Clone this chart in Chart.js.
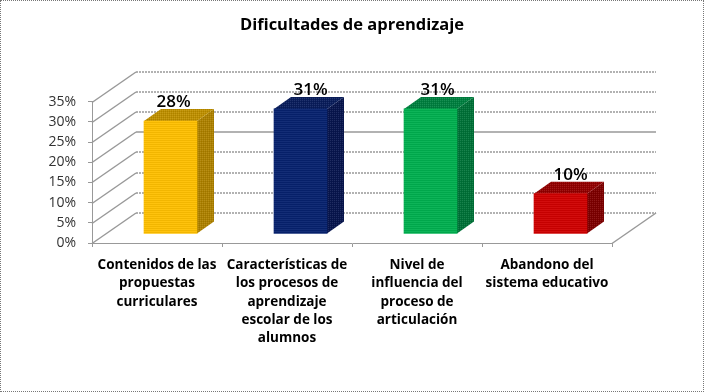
<!DOCTYPE html>
<html>
<head>
<meta charset="utf-8">
<style>
    html, body { margin: 0; padding: 0; background: #fff; }
    #wrap { width: 704px; height: 392px; position: relative; box-sizing: border-box; border: 1px dotted #777; }
    #wrap canvas { position: absolute; left: -1px; top: -1px; }
</style>
<script src="https://cdn.jsdelivr.net/npm/chart.js@4"></script>
</head>
<body>
<div id="wrap"><canvas id="chart" width="704" height="392"></canvas></div>
<script>
const chartTitle = 'Dificultades de aprendizaje';
const categories = [
    ['Contenidos de las', 'propuestas', 'curriculares'],
    ['Características de', 'los procesos de', 'aprendizaje', 'escolar de los', 'alumnos'],
    ['Nivel de', 'influencia del', 'proceso de', 'articulación'],
    ['Abandono del', 'sistema educativo']
];
const values = [28, 31, 31, 10];
const yTicks = [0, 5, 10, 15, 20, 25, 30, 35];

const frontColors = ['#FFC000', '#07226F', '#00B050', '#D00000'];
const sideColors = ['#AE8200', '#08164E', '#007238', '#7E0000'];
const topColors = ['#BF9000', '#0A1E5C', '#008040', '#930000'];

// 3D look: where the floor and back wall sit relative to the axes
const wallDx = 44, wallDy = -30.5;
const barDx = 13.5, barDy = -9;
const faceDx = 17, faceDy = -12;
const labelNudge = [3, 10, 7, 10];

// Small checker so the fills have the dithered look of the original
function dither(color) {
    const c = document.createElement('canvas');
    c.width = c.height = 2;
    const g = c.getContext('2d');
    g.fillStyle = color;
    g.fillRect(0, 0, 2, 2);
    g.fillStyle = 'rgba(255,255,255,0.10)';
    g.fillRect(0, 0, 1, 1);
    g.fillStyle = 'rgba(0,0,0,0.10)';
    g.fillRect(1, 1, 1, 1);
    return g.createPattern(c, 'repeat');
}

// Walls, floor and the side and top of each bar
const depthPlugin = {
    id: 'depth',
    beforeDatasetsDraw(chart) {
        const { ctx, scales: { x, y } } = chart;
        ctx.save();
        ctx.strokeStyle = '#999';
        ctx.lineWidth = 1.5;
        yTicks.forEach(t => {
            const py = Math.round(y.getPixelForValue(t)) + 0.5;
            ctx.setLineDash([]);
            ctx.beginPath();
            ctx.moveTo(x.left, py);
            ctx.lineTo(x.left + wallDx, py + wallDy);
            ctx.stroke();
            ctx.setLineDash(t === 20 ? [] : [2, 1]);
            ctx.beginPath();
            ctx.moveTo(x.left + wallDx, py + wallDy);
            ctx.lineTo(x.right + wallDx, py + wallDy);
            ctx.stroke();
        });
        ctx.setLineDash([]);
        const floorY = Math.round(y.getPixelForValue(0)) + 0.5;
        ctx.beginPath();
        ctx.moveTo(x.right, floorY);
        ctx.lineTo(x.right + wallDx, floorY + wallDy);
        ctx.stroke();

        chart.getDatasetMeta(0).data.forEach((bar, i) => {
            const { x: cx, y: top, base, width } = bar.getProps(['x', 'y', 'base', 'width'], true);
            const l = cx - width / 2 + barDx, r = cx + width / 2 + barDx;
            const t = top + barDy, b = base + barDy;
            ctx.fillStyle = dither(sideColors[i]);
            ctx.beginPath();
            ctx.moveTo(r, t);
            ctx.lineTo(r + faceDx, t + faceDy);
            ctx.lineTo(r + faceDx, b + faceDy);
            ctx.lineTo(r, b);
            ctx.closePath();
            ctx.fill();
            ctx.fillStyle = dither(topColors[i]);
            ctx.beginPath();
            ctx.moveTo(l, t);
            ctx.lineTo(l + faceDx, t + faceDy);
            ctx.lineTo(r + faceDx, t + faceDy);
            ctx.lineTo(r, t);
            ctx.closePath();
            ctx.fill();
        });
        ctx.restore();
    },
    beforeDatasetDraw(chart) {
        chart.ctx.save();
        chart.ctx.translate(barDx, barDy);
    },
    afterDatasetDraw(chart) {
        chart.ctx.restore();
    },
    afterDatasetsDraw(chart) {
        const { ctx } = chart;
        ctx.save();
        ctx.font = '600 17px "Open Sans"';
        ctx.fillStyle = '#000';
        ctx.textAlign = 'center';
        ctx.textBaseline = 'middle';
        chart.getDatasetMeta(0).data.forEach((bar, i) => {
            const { x: cx, y: top } = bar.getProps(['x', 'y'], true);
            ctx.fillText(values[i] + '%', cx + barDx + labelNudge[i], top + barDy - 18.5);
        });
        ctx.restore();
    }
};

new Chart(document.getElementById('chart'), {
    type: 'bar',
    data: {
        labels: categories,
        datasets: [{
            data: values,
            backgroundColor: frontColors.map(dither),
            barThickness: 53
        }]
    },
    plugins: [depthPlugin],
    options: {
        responsive: false,
        animation: false,
        layout: { padding: 0 },
        plugins: {
            legend: { display: false },
            tooltip: { enabled: false },
            title: {
                display: true,
                text: chartTitle,
                color: '#000',
                font: { family: '"Open Sans"', size: 16.5, weight: '700', lineHeight: 1.2 },
                padding: { top: 15, bottom: 67 }
            }
        },
        scales: {
            x: {
                grid: { drawOnChartArea: false, tickLength: 4, color: '#999' },
                border: { color: '#999', dash: [2, 1] },
                ticks: {
                    color: '#000',
                    font: { family: '"Open Sans"', size: 13.5, weight: '700', lineHeight: 1.36 },
                    autoSkip: false,
                    maxRotation: 0,
                    padding: 9
                },
                afterFit(s) { s.height = 149; }
            },
            y: {
                min: 0,
                max: 35,
                afterBuildTicks(s) { s.ticks = yTicks.map(v => ({ value: v })); },
                grid: { drawOnChartArea: false, tickLength: 4, color: '#999' },
                border: { color: '#999', dash: [2, 1] },
                ticks: {
                    color: '#333',
                    font: { family: '"Open Sans"', size: 14 },
                    padding: 12,
                    callback: v => v + '%'
                },
                afterFit(s) { s.width = 92; }
            },
            // empty axis, only keeps room on the right for the back wall
            spacer: {
                position: 'right',
                display: true,
                grid: { display: false },
                border: { display: false },
                ticks: { display: false },
                afterFit(s) { s.width = 92; }
            }
        }
    }
});
</script>
</body>
</html>
